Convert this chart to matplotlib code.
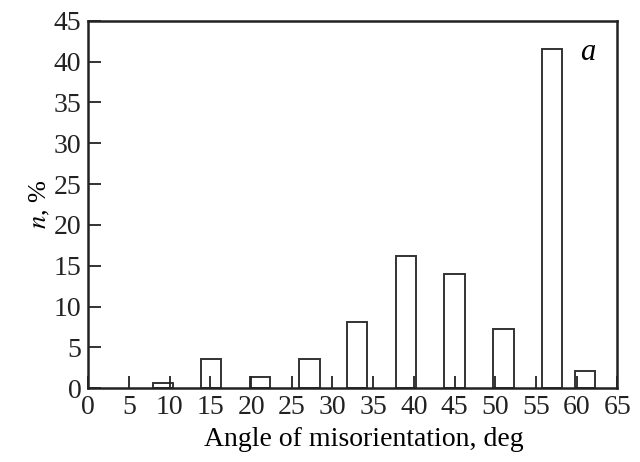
import matplotlib
matplotlib.use("Agg")
import matplotlib.pyplot as plt

plt.rcParams["font.family"] = ["Liberation Serif", "DejaVu Serif"]
plt.rcParams["mathtext.fontset"] = "stix"

# bar centres (deg) and share of boundaries (%)
angles = [9.2, 15.1, 21.1, 27.2, 33.0, 39.0, 45.0, 51.0, 57.0, 61.0]
share = [0.6, 3.6, 1.4, 3.6, 8.1, 16.2, 14.0, 7.3, 41.6, 2.1]
bar_width = 2.5

xticks = list(range(0, 70, 5))
yticks = list(range(0, 50, 5))

fig = plt.figure(figsize=(6.4, 4.62), dpi=100)
ax = fig.add_axes([0.138, 0.1595, 0.8265, 0.7955])

ax.bar(angles, share, width=bar_width, facecolor="white",
       edgecolor="#333333", linewidth=1.4)

ax.set_xlim(0, 65)
ax.set_ylim(0, 45)
ax.set_xticks(xticks)
ax.set_yticks(yticks)
ax.tick_params(direction="in", length=9, width=1.3, labelsize=20,
               colors="#222222", pad=5)
for s in ax.spines.values():
    s.set_linewidth(1.8)
    s.set_color("#222222")

ax.set_xlabel("Angle of misorientation, deg", fontsize=20, labelpad=4)
ax.xaxis.set_label_coords(0.52, -0.105)
ax.set_ylabel("$n$, %", fontsize=19, labelpad=1)

ax.text(0.945, 0.915, "a", transform=ax.transAxes, fontsize=22,
        style="italic", ha="center", va="center")

fig.savefig("out.png", dpi=100)
